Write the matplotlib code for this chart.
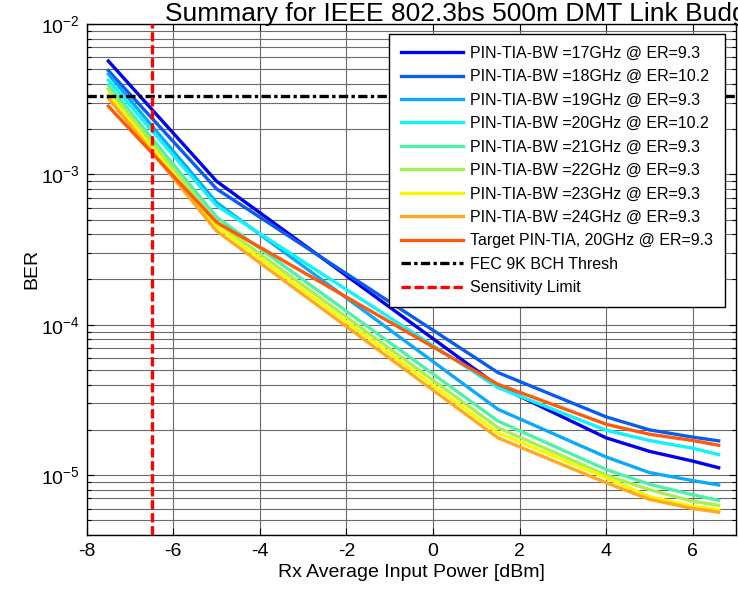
import matplotlib
matplotlib.use("Agg")
import matplotlib.pyplot as plt
from matplotlib.ticker import LogLocator, NullFormatter, FixedLocator

plt.rcParams['font.family'] = ['Liberation Sans', 'DejaVu Sans']
plt.rcParams['mathtext.fontset'] = 'custom'
plt.rcParams['mathtext.rm'] = 'Liberation Sans'
plt.rcParams['mathtext.it'] = 'Liberation Sans:italic'
plt.rcParams['mathtext.bf'] = 'Liberation Sans:bold'
plt.rcParams['axes.unicode_minus'] = False

# Received power sweep [dBm]
rx_power = [-7.5, -5.0, 1.5, 4.0, 5.0, 6.0, 6.6]

# Measured BER per PIN-TIA bandwidth
ber_17 = [5.67e-3, 9.0e-4, 3.92e-5, 1.77e-5, 1.44e-5, 1.24e-5, 1.12e-5]
ber_18 = [4.9e-3, 8.0e-4, 4.81e-5, 2.44e-5, 2.0e-5, 1.79e-5, 1.69e-5]
ber_19 = [4.64e-3, 6.5e-4, 2.74e-5, 1.32e-5, 1.04e-5, 9.2e-6, 8.6e-6]
ber_20 = [4.23e-3, 6.2e-4, 3.82e-5, 1.99e-5, 1.7e-5, 1.51e-5, 1.37e-5]
ber_21 = [3.92e-3, 5.2e-4, 2.29e-5, 1.09e-5, 8.7e-6, 7.4e-6, 6.8e-6]
ber_22 = [3.69e-3, 4.8e-4, 2.07e-5, 1.0e-5, 8.0e-6, 6.7e-6, 6.3e-6]
ber_23 = [3.42e-3, 4.5e-4, 1.91e-5, 9.6e-6, 7.2e-6, 6.2e-6, 5.9e-6]
ber_24 = [3.21e-3, 4.2e-4, 1.77e-5, 8.9e-6, 6.9e-6, 6.0e-6, 5.67e-6]
ber_target = [2.84e-3, 4.8e-4, 4.02e-5, 2.18e-5, 1.87e-5, 1.7e-5, 1.58e-5]

series_labels = [
    "PIN-TIA-BW =17GHz @ ER=9.3",
    "PIN-TIA-BW =18GHz @ ER=10.2",
    "PIN-TIA-BW =19GHz @ ER=9.3",
    "PIN-TIA-BW =20GHz @ ER=10.2",
    "PIN-TIA-BW =21GHz @ ER=9.3",
    "PIN-TIA-BW =22GHz @ ER=9.3",
    "PIN-TIA-BW =23GHz @ ER=9.3",
    "PIN-TIA-BW =24GHz @ ER=9.3",
    "Target PIN-TIA, 20GHz @ ER=9.3",
]
series_values = [ber_17, ber_18, ber_19, ber_20, ber_21, ber_22, ber_23,
                 ber_24, ber_target]
series_colors = ["#0000EE", "#0A5CF0", "#0AAAF8", "#10F4F8", "#50F0A8",
                 "#A8F050", "#F8F800", "#FFA820", "#FF5A0A"]

fec_threshold = 3.3e-3
sensitivity_limit = -6.5

title_text = "Summary for IEEE 802.3bs 500m DMT Link Budget"
x_label = "Rx Average Input Power [dBm]"
y_label = "BER"
x_ticks = [-8, -6, -4, -2, 0, 2, 4, 6]

fig = plt.figure(figsize=(7.38, 5.89), dpi=100)
ax = fig.add_axes([0.1175, 0.0917, 0.8798, 0.8676])

for vals, lab, col in zip(series_values, series_labels, series_colors):
    ax.plot(rx_power, vals, color=col, lw=2.4, label=lab, zorder=3)

ax.axhline(fec_threshold, color="black", lw=2.4, ls=(0, (2.8, 1.0, 1.0, 1.0)),
           label="FEC 9K BCH Thresh", zorder=3)
ax.axvline(sensitivity_limit, color="#FF0000", lw=2.4, ls=(0, (2.8, 1.1)),
           label="Sensitivity Limit", zorder=3)

ax.set_yscale("log")
ax.set_xlim(-8, 7)
ax.set_ylim(4e-6, 1e-2)
ax.xaxis.set_major_locator(FixedLocator(x_ticks))
ax.yaxis.set_major_locator(LogLocator(base=10, numticks=10))
ax.yaxis.set_minor_locator(LogLocator(base=10, subs=range(2, 10), numticks=20))
ax.yaxis.set_minor_formatter(NullFormatter())

ax.grid(True, which="major", color="#6a6a6a", lw=0.8, zorder=1)
ax.grid(True, which="minor", axis="y", color="#6a6a6a", lw=0.8, zorder=1)

ax.tick_params(which="both", direction="in", top=True, right=True,
               labelsize=14, width=0.8)
ax.tick_params(which="major", length=5)
ax.tick_params(which="minor", length=3)
ax.tick_params(axis="x", pad=6)
ax.tick_params(axis="y", pad=5)
for s in ax.spines.values():
    s.set_linewidth(1.0)
    s.set_color("black")

ax.set_xlabel(x_label, fontsize=14, labelpad=3)
ax.set_ylabel(y_label, fontsize=14)
ax.yaxis.set_label_coords(-0.072, 0.52)

leg = ax.legend(loc="upper right", bbox_to_anchor=(0.983, 0.980),
                borderaxespad=0, fontsize=11.5, handlelength=3.9,
                handletextpad=0.45, labelspacing=0.53, borderpad=0.72,
                fancybox=False, framealpha=1, edgecolor="black")
leg.get_frame().set_linewidth(1.0)
leg.set_zorder(5)

fig.text(165 / 738, 1 - 21 / 589, title_text, fontsize=19,
         ha="left", va="baseline")

fig.savefig("out.png", dpi=100)
